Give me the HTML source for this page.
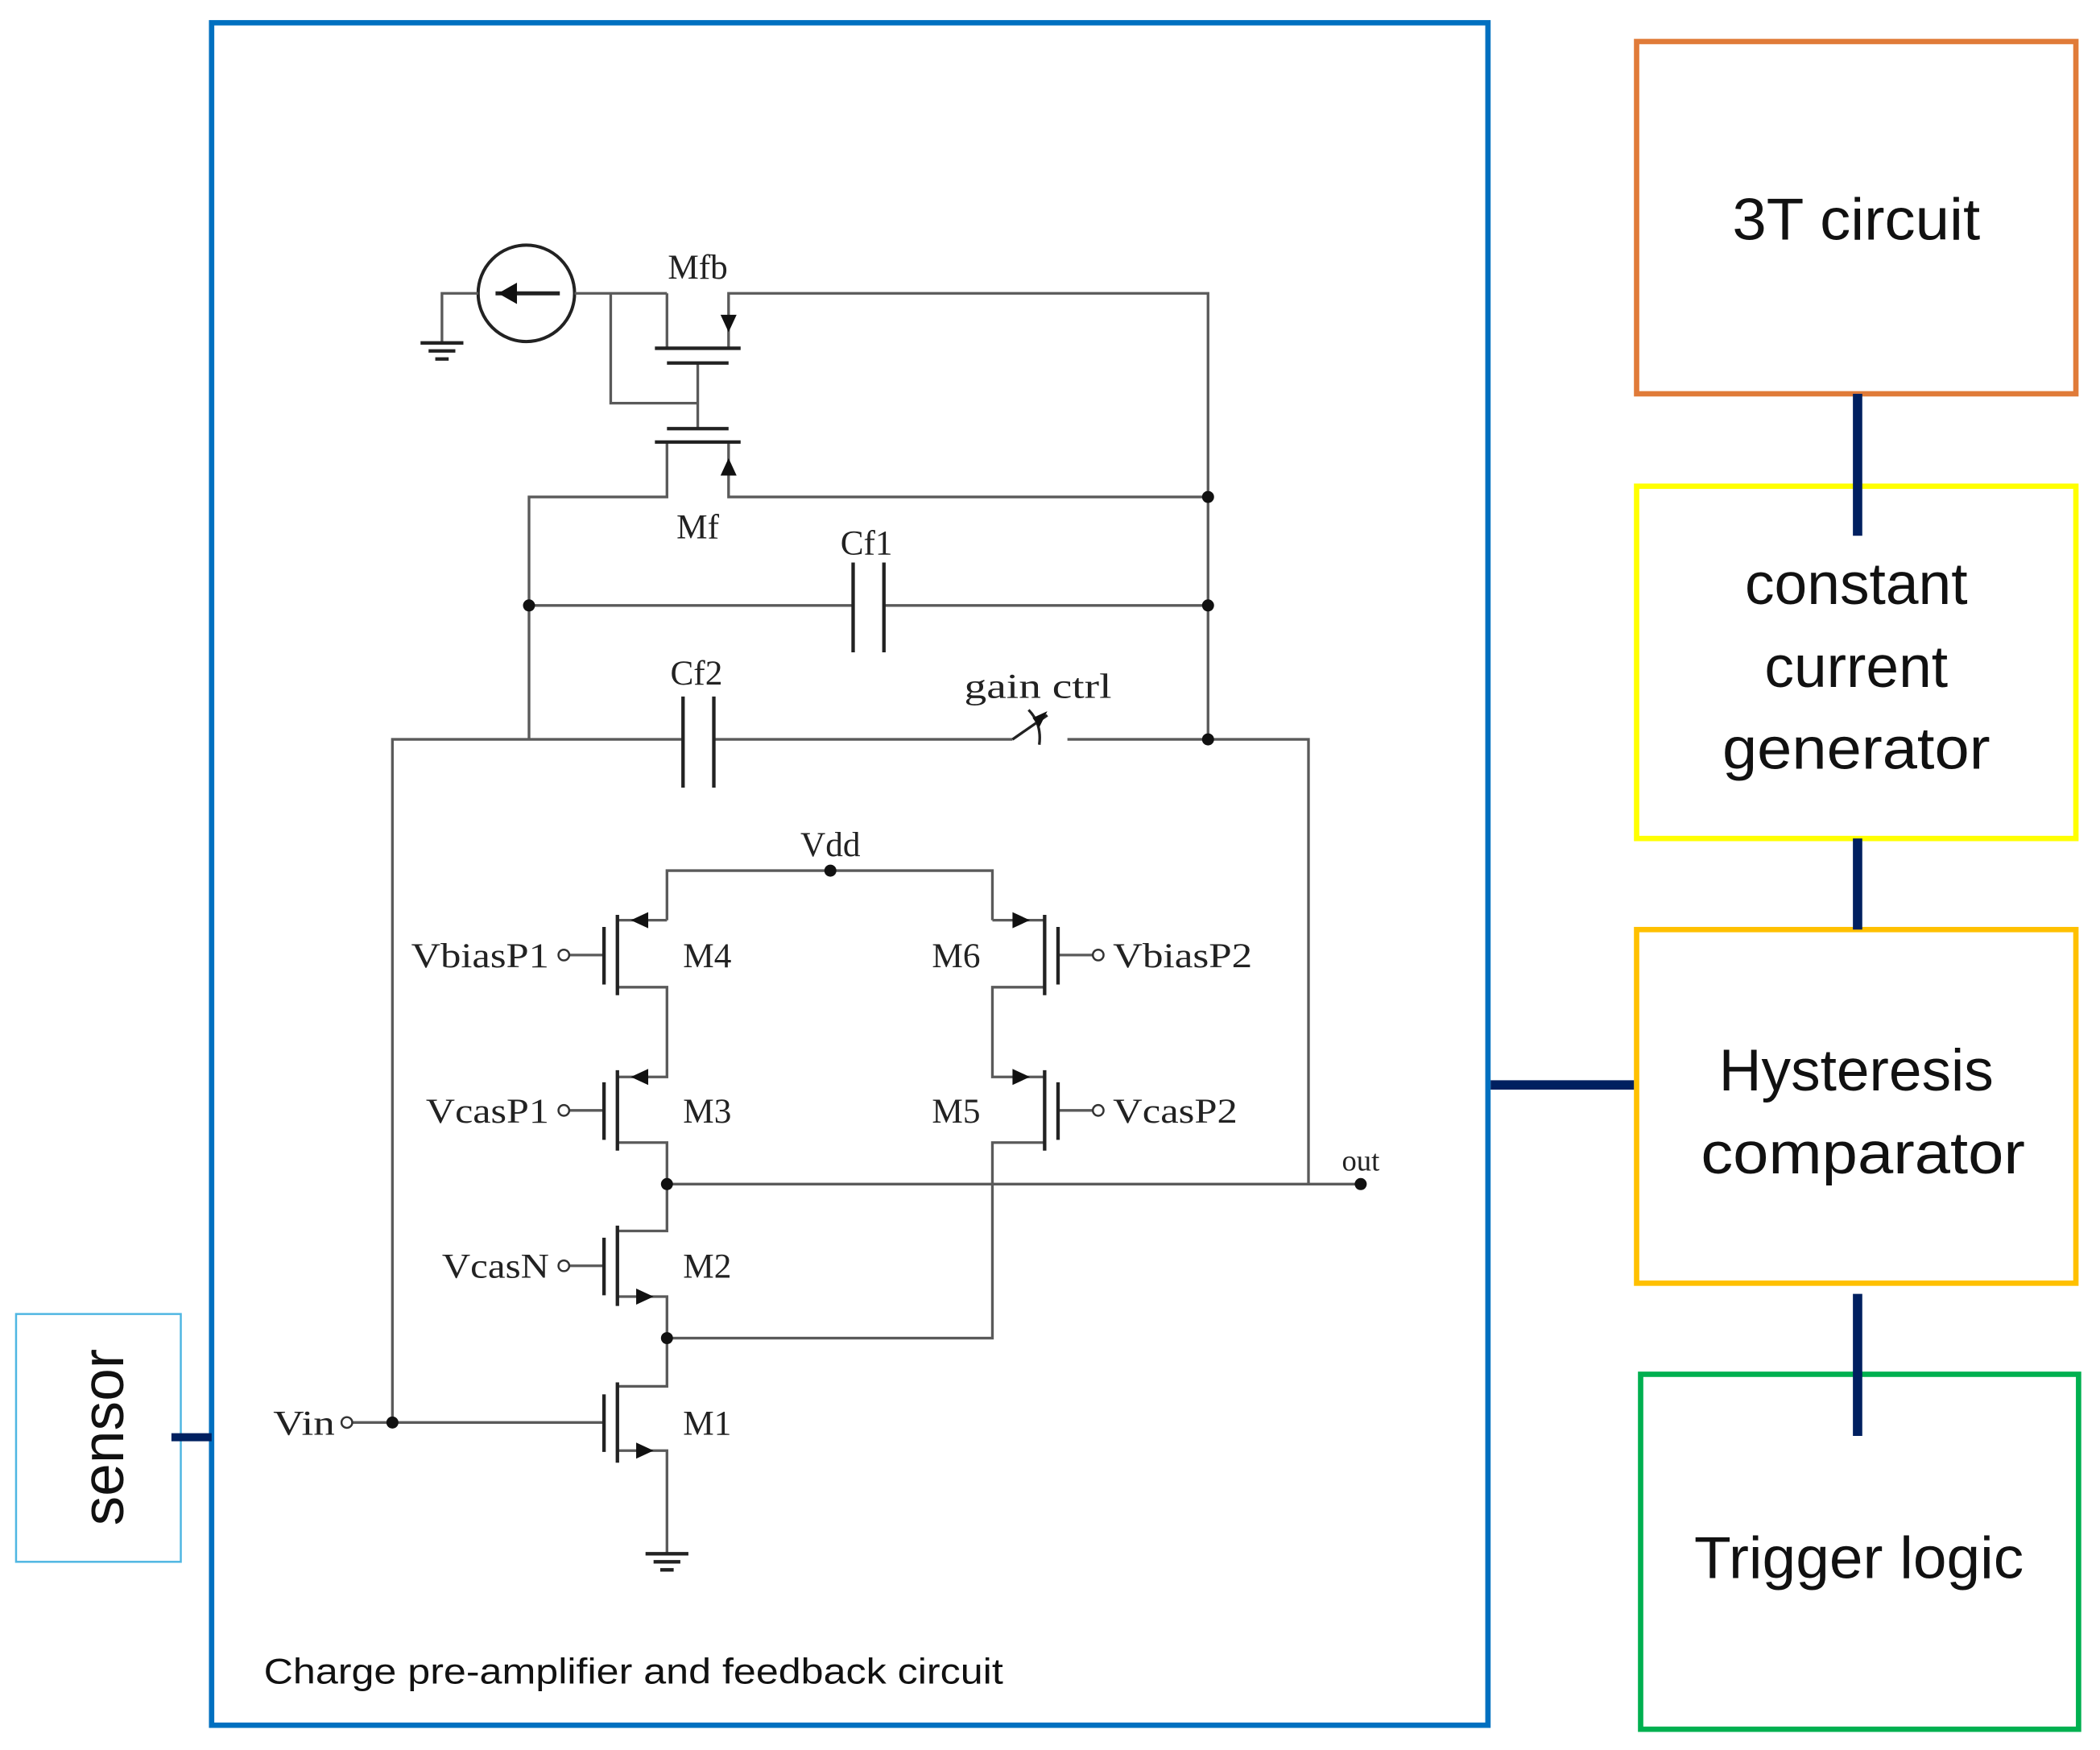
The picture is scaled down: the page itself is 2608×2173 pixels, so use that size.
<!DOCTYPE html>
<html><head><meta charset="utf-8"><style>
html,body{margin:0;padding:0;background:#fff;}
svg{display:block;}
.w{stroke:#5a5a5a;stroke-width:2;fill:none;}
.p{stroke:#222;stroke-width:2.6;fill:none;}
.t{font-family:"Liberation Serif",serif;font-size:26px;fill:#222;}
.s{font-family:"Liberation Sans",sans-serif;fill:#111;}
</style></head><body>
<svg width="2608" height="2173" viewBox="0 0 1568 1306.5" preserveAspectRatio="none" xmlns="http://www.w3.org/2000/svg">
<rect x="0" y="0" width="1568" height="1307" fill="#fff"/>
<rect x="158" y="17" width="953" height="1271" fill="none" stroke="#0070c0" stroke-width="4"/>
<rect x="12" y="981" width="123" height="185" fill="none" stroke="#4fb6e2" stroke-width="1.5"/>
<text class="s" x="0" y="0" font-size="44" text-anchor="middle" textLength="132" lengthAdjust="spacingAndGlyphs" transform="translate(92,1073) rotate(-90)">sensor</text>
<line x1="128" y1="1073" x2="158" y2="1073" stroke="#002060" stroke-width="6"/>
<rect x="1222" y="31" width="328" height="263" fill="none" stroke="#e07b39" stroke-width="4"/>
<rect x="1222" y="363" width="328" height="263" fill="none" stroke="#ffff00" stroke-width="4"/>
<rect x="1222" y="694" width="328" height="264" fill="none" stroke="#ffc000" stroke-width="4"/>
<rect x="1225" y="1026" width="327" height="265" fill="none" stroke="#00b050" stroke-width="4"/>
<text class="s" x="1386" y="179" font-size="44" text-anchor="middle" textLength="185" lengthAdjust="spacingAndGlyphs">3T circuit</text>
<text class="s" x="1386" y="451" font-size="44" text-anchor="middle">constant</text>
<text class="s" x="1386" y="513" font-size="44" text-anchor="middle">current</text>
<text class="s" x="1386" y="574" font-size="44" text-anchor="middle" textLength="200" lengthAdjust="spacingAndGlyphs">generator</text>
<text class="s" x="1386" y="814" font-size="44" text-anchor="middle" textLength="205" lengthAdjust="spacingAndGlyphs">Hysteresis</text>
<text class="s" x="1391" y="876" font-size="44" text-anchor="middle" textLength="242" lengthAdjust="spacingAndGlyphs">comparator</text>
<text class="s" x="1388" y="1178" font-size="44" text-anchor="middle" textLength="246" lengthAdjust="spacingAndGlyphs">Trigger logic</text>
<g stroke="#002060" stroke-width="7">
<line x1="1387" y1="294" x2="1387" y2="400"/>
<line x1="1387" y1="626" x2="1387" y2="694"/>
<line x1="1387" y1="966" x2="1387" y2="1072"/>
<line x1="1113" y1="810" x2="1220" y2="810"/>
</g>
<text class="s" x="197" y="1257" font-size="27" textLength="552" lengthAdjust="spacingAndGlyphs">Charge pre-amplifier and feedback circuit</text>

<g class="w">
<circle cx="393" cy="219" r="36" stroke="#222" stroke-width="2.4"/>
<polyline points="330,255 330,219 357,219"/>
<line x1="429" y1="219" x2="498" y2="219"/>
<line x1="370" y1="219" x2="418" y2="219" stroke="#222" stroke-width="3"/>
<polyline points="498,219 498,260"/>
<polyline points="456,219 456,301 521,301"/>
<line x1="521" y1="271" x2="521" y2="320"/>
<polyline points="544,260 544,219 902,219 902,552"/>
<polyline points="498,330 498,371 395,371 395,552"/>
<polyline points="544,330 544,371 902,371"/>
<line x1="395" y1="452" x2="637" y2="452"/>
<line x1="660" y1="452" x2="902" y2="452"/>
<polyline points="293,1062 293,552 510,552"/>
<line x1="533" y1="552" x2="756" y2="552"/>
<polyline points="797,552 977,552 977,884"/>
<line x1="756" y1="552" x2="782" y2="534" stroke="#222"/>
<path d="M768,530 Q778,540 776,556" stroke="#222"/>
<polyline points="498,687 498,650 741,650 741,687"/>
<line x1="461" y1="687" x2="498" y2="687"/>
<polyline points="461,737 498,737 498,804 461,804"/>
<polyline points="461,853 498,853 498,919 461,919"/>
<polyline points="461,968 498,968 498,1035 461,1035"/>
<polyline points="461,1083 498,1083 498,1160"/>
<line x1="741" y1="687" x2="780" y2="687"/>
<polyline points="780,737 741,737 741,804 780,804"/>
<polyline points="780,853 741,853 741,999 498,999"/>
<line x1="498" y1="884" x2="1016" y2="884"/>
<line x1="425" y1="713" x2="451" y2="713"/>
<line x1="425" y1="829" x2="451" y2="829"/>
<line x1="425" y1="945" x2="451" y2="945"/>
<line x1="263" y1="1062" x2="451" y2="1062"/>
<line x1="790" y1="713" x2="816" y2="713"/>
<line x1="790" y1="829" x2="816" y2="829"/>
</g>
<g class="p">
<line x1="489" y1="260" x2="553" y2="260"/>
<line x1="498" y1="271" x2="544" y2="271"/>
<line x1="498" y1="320" x2="544" y2="320"/>
<line x1="489" y1="330" x2="553" y2="330"/>
<line x1="637" y1="420" x2="637" y2="487"/>
<line x1="660" y1="420" x2="660" y2="487"/>
<line x1="510" y1="520" x2="510" y2="588"/>
<line x1="533" y1="520" x2="533" y2="588"/>
<line x1="461" y1="683" x2="461" y2="743"/><line x1="451" y1="692" x2="451" y2="735"/>
<line x1="461" y1="799" x2="461" y2="859"/><line x1="451" y1="808" x2="451" y2="851"/>
<line x1="461" y1="915" x2="461" y2="975"/><line x1="451" y1="924" x2="451" y2="967"/>
<line x1="461" y1="1032" x2="461" y2="1092"/><line x1="451" y1="1041" x2="451" y2="1084"/>
<line x1="780" y1="683" x2="780" y2="743"/><line x1="790" y1="692" x2="790" y2="735"/>
<line x1="780" y1="799" x2="780" y2="859"/><line x1="790" y1="808" x2="790" y2="851"/>
<line x1="314" y1="256" x2="346" y2="256"/><line x1="320" y1="262" x2="340" y2="262"/><line x1="325" y1="268" x2="335" y2="268"/>
<line x1="482" y1="1160" x2="514" y2="1160"/><line x1="488" y1="1166" x2="508" y2="1166"/><line x1="493" y1="1172" x2="503" y2="1172"/>
</g>
<g fill="#111">
<polygon points="372,219 386,211 386,227"/>
<polygon points="544,248 538,235 550,235"/>
<polygon points="544,342 538,355 550,355"/>
<polygon points="471,687 484,681 484,693"/>
<polygon points="471,804 484,798 484,810"/>
<polygon points="488,968 475,962 475,974"/>
<polygon points="488,1083 475,1077 475,1089"/>
<polygon points="769,687 756,681 756,693"/>
<polygon points="769,804 756,798 756,810"/>
<polygon points="782,531 776,543 771,536"/>
<circle cx="902" cy="371" r="4.5"/><circle cx="395" cy="452" r="4.5"/><circle cx="902" cy="452" r="4.5"/>
<circle cx="902" cy="552" r="4.5"/><circle cx="620" cy="650" r="4.5"/><circle cx="498" cy="884" r="4.5"/>
<circle cx="498" cy="999" r="4.5"/><circle cx="293" cy="1062" r="4.5"/><circle cx="1016" cy="884" r="4.5"/>
</g>
<g fill="#fff" stroke="#333" stroke-width="1.5">
<circle cx="421" cy="713" r="4"/><circle cx="421" cy="829" r="4"/><circle cx="421" cy="945" r="4"/>
<circle cx="259" cy="1062" r="4"/><circle cx="820" cy="713" r="4"/><circle cx="820" cy="829" r="4"/>
</g>
<g class="t">
<text x="521" y="208" text-anchor="middle">Mfb</text>
<text x="521" y="402" text-anchor="middle">Mf</text>
<text x="647" y="414" text-anchor="middle">Cf1</text>
<text x="520" y="511" text-anchor="middle">Cf2</text>
<text x="775" y="521" text-anchor="middle" textLength="110" lengthAdjust="spacingAndGlyphs">gain ctrl</text>
<text x="620" y="639" text-anchor="middle">Vdd</text>
<text x="307" y="722" textLength="103" lengthAdjust="spacingAndGlyphs">VbiasP1</text>
<text x="318" y="838" textLength="92" lengthAdjust="spacingAndGlyphs">VcasP1</text>
<text x="330" y="954" textLength="80" lengthAdjust="spacingAndGlyphs">VcasN</text>
<text x="204" y="1071" textLength="46" lengthAdjust="spacingAndGlyphs">Vin</text>
<text x="510" y="722">M4</text>
<text x="510" y="838">M3</text>
<text x="510" y="954">M2</text>
<text x="510" y="1071">M1</text>
<text x="732" y="722" text-anchor="end">M6</text>
<text x="732" y="838" text-anchor="end">M5</text>
<text x="831" y="722" textLength="104" lengthAdjust="spacingAndGlyphs">VbiasP2</text>
<text x="831" y="838" textLength="93" lengthAdjust="spacingAndGlyphs">VcasP2</text>
<text x="1016" y="874" text-anchor="middle" font-size="22">out</text>
</g>
</svg>
</body></html>
